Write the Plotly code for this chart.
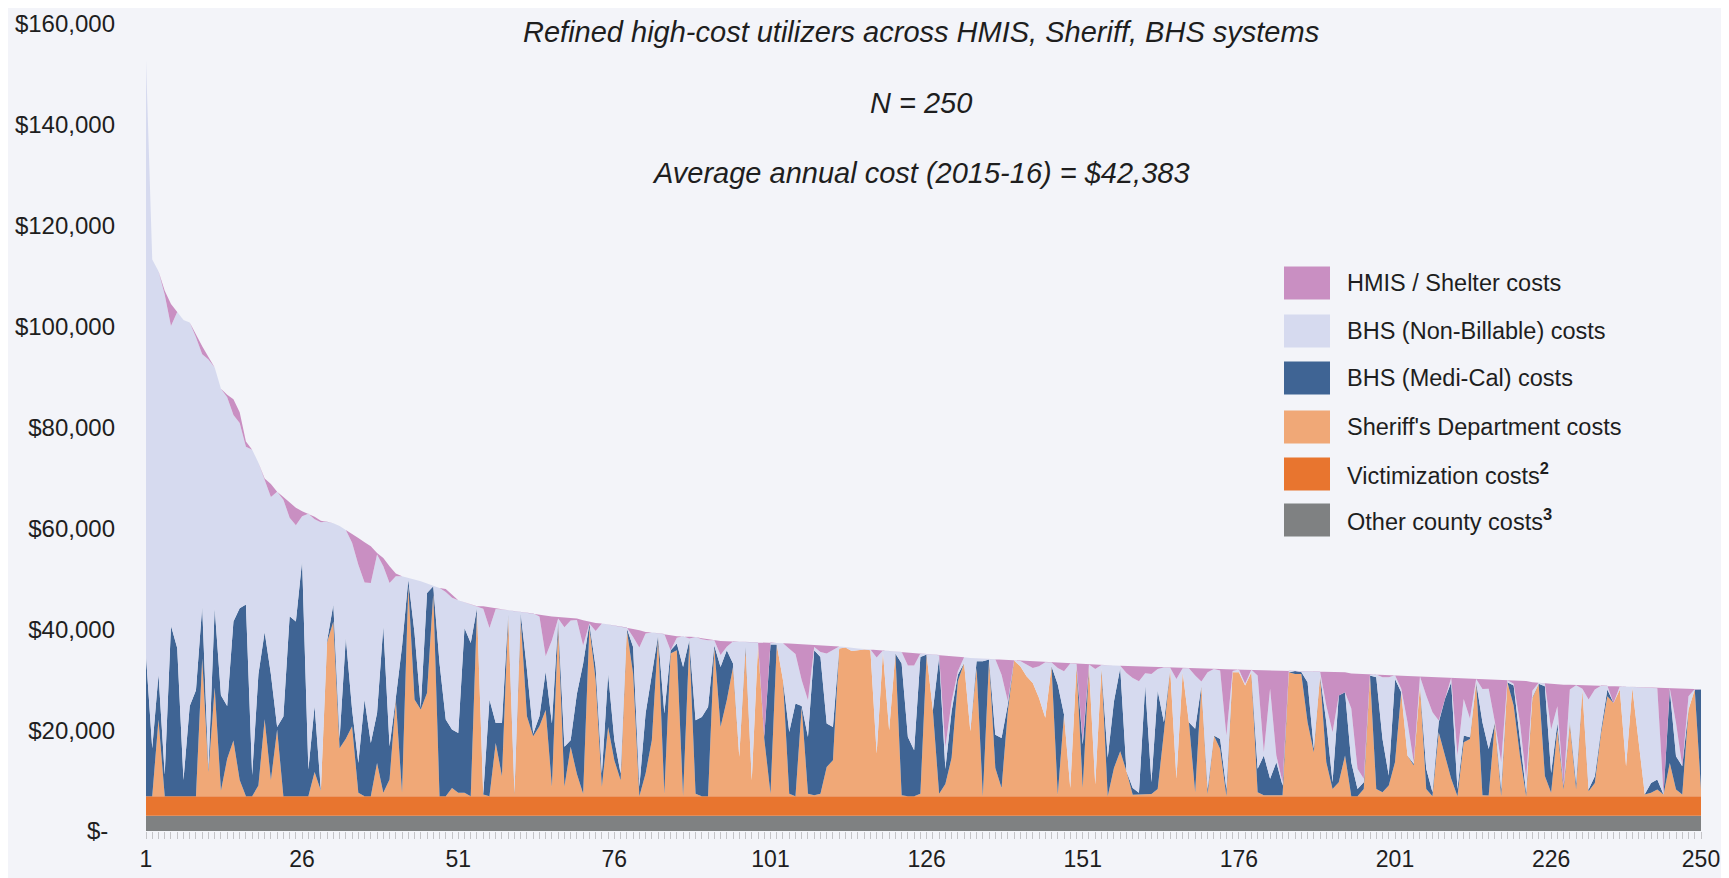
import plotly.graph_objects as go

# ---------------- data ----------------
persons = list(range(1, 251))

other_county = [
    3000, 3000, 3000, 3000, 3000, 3000, 3000, 3000, 3000, 3000,
    3000, 3000, 3000, 3000, 3000, 3000, 3000, 3000, 3000, 3000,
    3000, 3000, 3000, 3000, 3000, 3000, 3000, 3000, 3000, 3000,
    3000, 3000, 3000, 3000, 3000, 3000, 3000, 3000, 3000, 3000,
    3000, 3000, 3000, 3000, 3000, 3000, 3000, 3000, 3000, 3000,
    3000, 3000, 3000, 3000, 3000, 3000, 3000, 3000, 3000, 3000,
    3000, 3000, 3000, 3000, 3000, 3000, 3000, 3000, 3000, 3000,
    3000, 3000, 3000, 3000, 3000, 3000, 3000, 3000, 3000, 3000,
    3000, 3000, 3000, 3000, 3000, 3000, 3000, 3000, 3000, 3000,
    3000, 3000, 3000, 3000, 3000, 3000, 3000, 3000, 3000, 3000,
    3000, 3000, 3000, 3000, 3000, 3000, 3000, 3000, 3000, 3000,
    3000, 3000, 3000, 3000, 3000, 3000, 3000, 3000, 3000, 3000,
    3000, 3000, 3000, 3000, 3000, 3000, 3000, 3000, 3000, 3000,
    3000, 3000, 3000, 3000, 3000, 3000, 3000, 3000, 3000, 3000,
    3000, 3000, 3000, 3000, 3000, 3000, 3000, 3000, 3000, 3000,
    3000, 3000, 3000, 3000, 3000, 3000, 3000, 3000, 3000, 3000,
    3000, 3000, 3000, 3000, 3000, 3000, 3000, 3000, 3000, 3000,
    3000, 3000, 3000, 3000, 3000, 3000, 3000, 3000, 3000, 3000,
    3000, 3000, 3000, 3000, 3000, 3000, 3000, 3000, 3000, 3000,
    3000, 3000, 3000, 3000, 3000, 3000, 3000, 3000, 3000, 3000,
    3000, 3000, 3000, 3000, 3000, 3000, 3000, 3000, 3000, 3000,
    3000, 3000, 3000, 3000, 3000, 3000, 3000, 3000, 3000, 3000,
    3000, 3000, 3000, 3000, 3000, 3000, 3000, 3000, 3000, 3000,
    3000, 3000, 3000, 3000, 3000, 3000, 3000, 3000, 3000, 3000,
    3000, 3000, 3000, 3000, 3000, 3000, 3000, 3000, 3000, 3000,
]

victimization = [
    3900, 3900, 3900, 3900, 3900, 3900, 3900, 3900, 3900, 3900,
    3900, 3900, 3900, 3900, 3900, 3900, 3900, 3900, 3900, 3900,
    3900, 3900, 3900, 3900, 3900, 3900, 3900, 3900, 3900, 3900,
    3900, 3900, 3900, 3900, 3900, 3900, 3900, 3900, 3900, 3900,
    3900, 3900, 3900, 3900, 3900, 3900, 3900, 3900, 3900, 3900,
    3900, 3900, 3900, 3900, 3900, 3900, 3900, 3900, 3900, 3900,
    3900, 3900, 3900, 3900, 3900, 3900, 3900, 3900, 3900, 3900,
    3900, 3900, 3900, 3900, 3900, 3900, 3900, 3900, 3900, 3900,
    3900, 3900, 3900, 3900, 3900, 3900, 3900, 3900, 3900, 3900,
    3900, 3900, 3900, 3900, 3900, 3900, 3900, 3900, 3900, 3900,
    3900, 3900, 3900, 3900, 3900, 3900, 3900, 3900, 3900, 3900,
    3900, 3900, 3900, 3900, 3900, 3900, 3900, 3900, 3900, 3900,
    3900, 3900, 3900, 3900, 3900, 3900, 3900, 3900, 3900, 3900,
    3900, 3900, 3900, 3900, 3900, 3900, 3900, 3900, 3900, 3900,
    3900, 3900, 3900, 3900, 3900, 3900, 3900, 3900, 3900, 3900,
    3900, 3900, 3900, 3900, 3900, 3900, 3900, 3900, 3900, 3900,
    3900, 3900, 3900, 3900, 3900, 3900, 3900, 3900, 3900, 3900,
    3900, 3900, 3900, 3900, 3900, 3900, 3900, 3900, 3900, 3900,
    3900, 3900, 3900, 3900, 3900, 3900, 3900, 3900, 3900, 3900,
    3900, 3900, 3900, 3900, 3900, 3900, 3900, 3900, 3900, 3900,
    3900, 3900, 3900, 3900, 3900, 3900, 3900, 3900, 3900, 3900,
    3900, 3900, 3900, 3900, 3900, 3900, 3900, 3900, 3900, 3900,
    3900, 3900, 3900, 3900, 3900, 3900, 3900, 3900, 3900, 3900,
    3900, 3900, 3900, 3900, 3900, 3900, 3900, 3900, 3900, 3900,
    3900, 3900, 3900, 3900, 3900, 3900, 3900, 3900, 3900, 3900,
]

sheriff = [
    0, 0, 15200, 0, 0, 0, 0, 0, 0, 27300,
    4800, 21550, 1100, 7400, 11050, 3200, 0, 0, 2100, 15250,
    3200, 13200, 0, 0, 0, 0, 0, 4800, 1100, 30500,
    34650, 9500, 11400, 13870, 660, 0, 0, 6600, 660, 3300,
    19160, 660, 41620, 19160, 17180, 20480, 40300, 0, 0, 1650,
    660, 660, 0, 37000, 330, 0, 10570, 3960, 35680, 330,
    35020, 15860, 11890, 13870, 17100, 1850, 33900, 1850, 9780, 4400,
    500, 33560, 23000, 1850, 13740, 7100, 3170, 32900, 24300, 0,
    4500, 11100, 31600, 500, 28280, 28940, 0, 30600, 500, 0,
    0, 29600, 13740, 19030, 25630, 7800, 29200, 3170, 29930, 11400,
    500, 30100, 23000, 500, 0, 17700, 500, 200, 500, 5800,
    7140, 29270, 29500, 28800, 28940, 29070, 28940, 8460, 28600, 13080,
    28280, 200, 0, 0, 500, 28080, 17000, 500, 2400, 7600,
    22800, 26430, 12880, 25440, 0, 27090, 5600, 1650, 16850, 26890,
    25770, 23780, 22460, 19490, 15530, 25770, 300, 16190, 1650, 25770,
    1650, 25770, 2310, 25440, 0, 5600, 8900, 4950, 300, 300,
    400, 460, 1450, 12690, 25240, 3440, 24580, 14670, 790, 21930,
    400, 12020, 9380, 0, 24580, 24580, 21930, 24580, 790, 200,
    200, 200, 200, 24580, 24250, 24250, 14670, 8720, 23920, 6740,
    1450, 2770, 8060, 0, 0, 1450, 23920, 1450, 790, 2110,
    6740, 20610, 8060, 6080, 21930, 1450, 0, 12690, 8060, 3440,
    0, 10700, 11360, 22600, 200, 130, 14670, 0, 22600, 17970,
    8060, 0, 19400, 22300, 4000, 660, 13210, 1320, 14530, 1320,
    21100, 1000, 2640, 12550, 19820, 18500, 21140, 5950, 21500, 11230,
    330, 660, 1320, 330, 6600, 1320, 330, 17180, 21140, 1320,
]

bhs_medical = [
    27850, 9500, 9000, 4250, 33800, 29400, 3200, 17900, 21000, 10300,
    500, 15750, 18900, 10500, 23600, 34050, 38000, 4200, 22100, 17300,
    21000, 500, 15800, 35700, 34650, 46700, 5300, 13100, 0, 300,
    3350, 1900, 20000, 3310, 5940, 19160, 10570, 9920, 33040, 6610,
    300, 29070, 1330, 13210, 320, 19820, 1320, 26430, 15200, 11560,
    11890, 32710, 30390, 300, 0, 19160, 3960, 10570, 660, 330,
    1320, 9250, 500, 1990, 7600, 12550, 980, 7930, 1320, 15900,
    25800, 660, 2600, 2650, 10560, 4000, 1330, 330, 5300, 1850,
    11900, 13200, 300, 15900, 630, 1320, 25630, 320, 14560, 15720,
    17700, 300, 11890, 9910, 670, 0, 700, 0, 0, 360,
    29600, 0, 0, 12250, 18370, 200, 11260, 28740, 27120, 8600,
    6600, 0, 0, 0, 0, 0, 0, 0, 0, 0,
    0, 26100, 11760, 9120, 27120, 0, 0, 27120, 3000, 9250,
    1300, 0, 0, 1320, 26760, 0, 6600, 9910, 1320, 0,
    0, 0, 0, 0, 0, 0, 21830, 0, 0, 0,
    8590, 0, 0, 0, 7600, 13230, 16540, 0, 1350, 360,
    21600, 2310, 19490, 1980, 0, 0, 0, 0, 12560, 0,
    1050, 0, 1980, 1450, 0, 0, 0, 0, 4630, 7860,
    3240, 6540, 1900, 0, 590, 350, 7930, 680, 0, 7930,
    1320, 17180, 12550, 6740, 1450, 1320, 0, 22140, 10570, 1990,
    16520, 0, 0, 330, 0, 3970, 790, 1980, 11230, 19160,
    1450, 1320, 330, 0, 14470, 9250, 0, 1450, 0, 3970,
    3300, 790, 200, 0, 17800, 3960, 1320, 660, 330, 1320,
    0, 320, 1320, 660, 1320, 0, 0, 0, 0, 0,
    70, 1980, 1980, 0, 14540, 6610, 5620, 0, 0, 19820,
]

bhs_nonbillable = [
    118050, 96900, 79900, 95150, 59400, 66600, 91200, 76000, 70000, 50000,
    81300, 47700, 60800, 61200, 40950, 36750, 31300, 64500, 41900, 29950,
    35100, 46650, 43000, 19500, 19050, 8800, 50700, 37000, 53200, 23600,
    16100, 42150, 21400, 33080, 39300, 23190, 31680, 31410, 11890, 32380,
    24170, 13870, 330, 10580, 25120, 1850, 130, 14860, 25300, 26160,
    26300, 5080, 7600, 360, 36830, 14200, 22600, 22470, 530, 36010,
    200, 11230, 23810, 19780, 3050, 16510, 370, 23700, 23750, 14620,
    3580, 30, 7160, 29720, 9730, 22730, 29130, 200, 1970, 27650,
    15870, 8140, 410, 15780, 0, 1150, 6080, 330, 16520, 15400,
    13220, 1020, 2360, 680, 4360, 22790, 700, 27380, 570, 0,
    300, 250, 7300, 16500, 9830, 5100, 7270, 660, 980, 13880,
    15200, 430, 100, 600, 360, 130, 160, 19020, 300, 15720,
    420, 2300, 14140, 16780, 680, 120, 11100, 380, 4300, 1950,
    680, 1120, 14540, 590, 530, 130, 14950, 12540, 660, 0,
    1050, 2320, 2980, 6280, 11030, 720, 3310, 8590, 24650, 460,
    660, 330, 22890, 560, 18360, 7070, 410, 19500, 21800, 22130,
    2400, 21480, 4300, 10830, 210, 19820, 800, 10680, 10570, 800,
    23130, 13210, 13550, 10570, 220, 530, 340, 470, 18500, 660,
    17840, 1320, 670, 290, 0, 210, 2180, 15350, 800, 3300,
    9920, 0, 0, 10660, 3970, 670, 260, 550, 12230, 19490,
    720, 670, 6610, 330, 1820, 14530, 15860, 330, 0, 880,
    6610, 7270, 3710, 660, 6600, 11900, 0, 5290, 390, 330,
    3310, 2650, 1300, 200, 550, 8590, 3310, 0, 6280, 19360,
    200, 17840, 17180, 8690, 740, 0, 660, 15800, 200, 10440,
    21200, 18910, 18100, 70, 260, 6600, 0, 2640, 130, 60,
]

hmis_shelter = [
    0, 0, 0, 800, 4400, 0, 0, 0, 500, 1600,
    500, 0, 0, 500, 3100, 2100, 1000, 0, 0, 500,
    2600, 0, 500, 3100, 3500, 1000, 0, 500, 300, 0,
    0, 0, 0, 1800, 5300, 8000, 7300, 300, 1650, 3300,
    500, 0, 0, 0, 0, 0, 0, 0, 600, 600,
    0, 0, 0, 0, 500, 4100, 0, 0, 0, 0,
    0, 0, 0, 300, 8000, 4700, 300, 2000, 500, 300,
    5000, 300, 1600, 0, 0, 0, 0, 0, 1600, 3400,
    300, 0, 0, 0, 3000, 300, 0, 400, 0, 200,
    200, 0, 2800, 1100, 0, 0, 0, 0, 0, 18690,
    0, 0, 0, 1000, 2000, 7150, 11070, 450, 1400, 1620,
    860, 0, 0, 0, 0, 0, 0, 1520, 0, 0,
    0, 0, 2600, 2500, 0, 0, 0, 0, 18250, 9080,
    2900, 0, 0, 0, 0, 0, 0, 2920, 8130, 0,
    0, 660, 1250, 860, 0, 0, 990, 1580, 0, 0,
    15260, 0, 830, 0, 0, 0, 0, 1350, 2300, 2910,
    1250, 1350, 310, 0, 0, 2140, 0, 0, 1400, 2560,
    680, 0, 290, 13150, 340, 0, 2810, 0, 1100, 16270,
    3680, 16870, 22130, 0, 0, 0, 0, 0, 0, 6720,
    11970, 4680, 3940, 6950, 18890, 20810, 0, 0, 490, 430,
    0, 2640, 9180, 17060, 0, 3750, 7000, 8590, 4240, 0,
    15370, 4080, 7920, 0, 1950, 1880, 8430, 16310, 0, 660,
    8210, 19390, 1700, 0, 0, 8990, 4290, 20120, 940, 50,
    720, 2840, 810, 0, 0, 3350, 0, 0, 0, 0,
    0, 0, 100, 21050, 0, 6840, 15380, 1480, 0, 0,
]

y_tick_values = [0, 20000, 40000, 60000, 80000, 100000, 120000, 140000, 160000]
y_tick_labels = ["$-\u00a0", "$20,000", "$40,000", "$60,000", "$80,000",
                 "$100,000", "$120,000", "$140,000", "$160,000"]
x_tick_values = [1, 26, 51, 76, 101, 126, 151, 176, 201, 226, 250]
x_tick_labels = ["1", "26", "51", "76", "101", "126", "151", "176", "201", "226", "250"]

title_lines = [
    "Refined high-cost utilizers across HMIS, Sheriff, BHS systems",
    "N = 250",
    "Average annual cost (2015-16) = $42,383",
]

# stacking order: bottom -> top
series = [
    ("Other county costs<sup><b>3</b></sup>", other_county, "#7f8182"),
    ("Victimization costs<sup><b>2</b></sup>", victimization, "#e8752f"),
    ("Sheriff's Department costs", sheriff, "#f0a877"),
    ("BHS (Medi-Cal) costs", bhs_medical, "#3f6494"),
    ("BHS (Non-Billable) costs", bhs_nonbillable, "#d6daef"),
    ("HMIS / Shelter costs", hmis_shelter, "#c98fc2"),
]

# ---------------- figure ----------------
# the page body has an 8px margin, so the figure is drawn 8px in from the corner
OFF = 8
W, H = 1729 - OFF, 878 - OFF
# plot area in page pixels: x 146..1701, y 24..831
ML, MR, MT, MB = 146 - OFF, 1729 - 1701, 24 - OFF, 878 - 831
PW, PH = W - ML - MR, H - MT - MB


def px_x(x):  # page pixel -> paper
    return (x - OFF - ML) / PW


def px_y(y):  # page pixel -> paper
    return (H - MB - (y - OFF)) / PH


FONT = "Liberation Sans, Arial, sans-serif"
BG = "#f3f4f9"

fig = go.Figure()
for name, vals, col in series:
    fig.add_trace(go.Scatter(
        x=persons, y=vals, name=name, mode="lines",
        stackgroup="costs", line=dict(width=0, color=col),
        fillcolor=col, showlegend=False, hoverinfo="x+y+name",
    ))

# custom legend (large swatches like the original)
legend_rows_y = [283, 331, 378, 427, 474, 520]
shapes = []
annotations = []
for (name, vals, col), ry in zip(reversed(series), legend_rows_y):
    shapes.append(dict(
        type="rect", xref="paper", yref="paper",
        x0=px_x(1284), x1=px_x(1330), y0=px_y(ry + 16.5), y1=px_y(ry - 16.5),
        fillcolor=col, line=dict(width=0), layer="above",
    ))
    annotations.append(dict(
        xref="paper", yref="paper", x=px_x(1345), y=px_y(ry),
        xanchor="left", yanchor="middle", text=name, showarrow=False,
        font=dict(family=FONT, size=23.5, color="#1e1e1e"),
    ))

for txt, ty in zip(title_lines, [32, 103, 173]):
    annotations.append(dict(
        xref="paper", yref="paper", x=px_x(921), y=px_y(ty),
        xanchor="center", yanchor="middle", showarrow=False,
        text="<i>" + txt + "</i>",
        font=dict(family=FONT, size=29, color="#1e1e1e"),
    ))

fig.update_layout(
    width=W, height=H,
    margin=dict(l=ML, r=MR, t=MT, b=MB, pad=0, autoexpand=False),
    paper_bgcolor=BG, plot_bgcolor=BG,
    shapes=shapes, annotations=annotations,
    showlegend=False,
    font=dict(family=FONT, size=21, color="#1e1e1e"),
)
fig.update_xaxes(
    range=[1, 250], tickmode="array", tickvals=x_tick_values, ticktext=x_tick_labels,
    ticks="outside", ticklen=7, tickcolor="#c4c4c8", tickwidth=1,
    minor=dict(dtick=1, tick0=1, ticks="outside", ticklen=7, tickcolor="#c4c4c8", tickwidth=1),
    showgrid=False, zeroline=False, showline=False, automargin=False,
    tickfont=dict(family=FONT, size=23, color="#1e1e1e"),
)
fig.update_yaxes(
    range=[0, 160000], tickmode="array", tickvals=y_tick_values, ticktext=y_tick_labels,
    showgrid=False, zeroline=False, showline=False, ticks="", automargin=False,
    ticklabelstandoff=30,
    tickfont=dict(family=FONT, size=24, color="#1e1e1e"),
)

fig.write_html("out.html")
